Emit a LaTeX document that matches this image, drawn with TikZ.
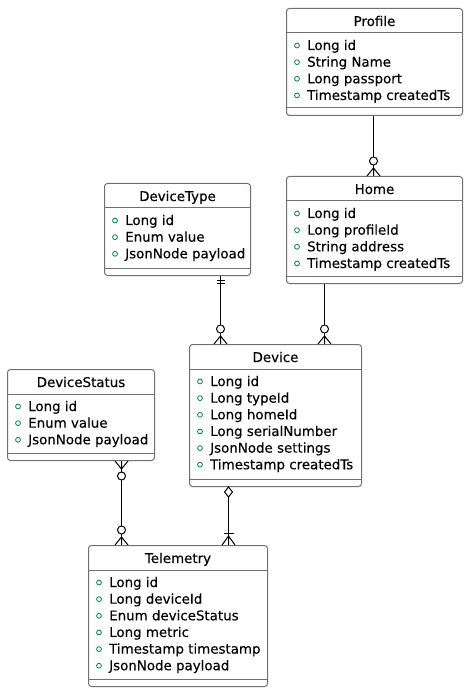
\documentclass[tikz,border=0pt]{standalone}
\usepackage{fontspec}
\setmainfont{DejaVu Sans}
\newfontface\entfont{DejaVu Sans}[FakeBold=0.25]
\usetikzlibrary{calc}
\definecolor{fieldgreen}{HTML}{038048}
\definecolor{boxline}{HTML}{707070}
\tikzset{
  entity box/.style={draw=boxline, line width=1pt, rounded corners=3pt, fill=white,
    anchor=north west, inner sep=0pt},
  entity title/.style={anchor=base, inner sep=0pt, font=\entfont\fontsize{13.4}{16}\selectfont},
  field/.style={anchor=base west, inner sep=0pt, font=\entfont\fontsize{13.4}{16}\selectfont},
  sep line/.style={draw=boxline, line width=1pt},
  relation/.style={draw=black, line width=1pt},
  % ends of a relation, drawn for a box below the point
  zero many/.pic={
    \draw[relation] (0,-8) -- (-6.5,0) (0,-8) -- (0,0) (0,-8) -- (6.5,0);
    \draw[relation, fill=white] (0,-15) circle (4pt);
  },
  one many/.pic={
    \draw[relation] (0,-9) -- (-6.5,0) (0,-9) -- (0,0) (0,-9) -- (6.5,0);
    \draw[relation] (-5,-12) -- (5,-12);
  },
  only one/.pic={
    \draw[relation] (-4,-4) -- (4,-4) (-4,-7.5) -- (4,-7.5);
  },
  aggregation/.pic={
    \draw[relation, fill=white] (0,0) -- (-4,-5) -- (0,-10) -- (4,-5) -- cycle;
  }
}
% name, x, y, width, height, title, fields
\newcommand\entity[7]{%
  \node[entity box, minimum width=#4pt, minimum height=#5pt] (#1) at (#2,#3) {};
  \node[entity title] (#1-title) at ($(#1.north)+(0,18)$) {#6};
  \draw[sep line] ($(#1.north west)+(0,25)$) -- ($(#1.north east)+(0,25)$);
  \draw[sep line] ($(#1.south west)+(0,-8)$) -- ($(#1.south east)+(0,-8)$);
  \foreach \f [count=\i] in {#7} {
    \draw[fieldgreen, line width=0.8pt] ($(#1.north west)+(11,{37.5+16.65*(\i-1)})$) circle (2.4pt);
    \node[field] (#1-f\i) at ($(#1.north west)+(21,{42+16.65*(\i-1)})$) {\f};
  }
}

\begin{document}
\begin{tikzpicture}[x=1pt, y=-1pt]
  \useasboundingbox (0,0) rectangle (465,692);

  \entity{profile}{286}{8}{176}{107}{Profile}
    {Long id, String Name, Long passport, Timestamp createdTs}
  \entity{home}{286}{176}{176}{107}{Home}
    {Long id, Long profileId, String address, Timestamp createdTs}
  \entity{devicetype}{104}{183}{146}{92}{DeviceType}
    {Long id, Enum value, JsonNode payload}
  \entity{device}{189}{344}{172}{142}{Device}
    {Long id, Long typeId, Long homeId, Long serialNumber, JsonNode settings, Timestamp createdTs}
  \entity{devicestatus}{7}{369}{147}{91}{DeviceStatus}
    {Long id, Enum value, JsonNode payload}
  \entity{telemetry}{88}{545}{179}{141}{Telemetry}
    {Long id, Long deviceId, Enum deviceStatus, Long metric, Timestamp timestamp, JsonNode payload}

  % relations
  \draw[relation] ([xshift=-1pt]profile.south) coordinate (pr-out)
    -- (pr-out |- home.north) coordinate (ho-in);
  \draw[relation] ([xshift=43pt]devicetype.south) coordinate (dt-out)
    -- (dt-out |- device.north) coordinate (dv-in1);
  \draw[relation] ([xshift=-50pt]home.south) coordinate (ho-out)
    -- (ho-out |- device.north) coordinate (dv-in2);
  \draw[relation] ([xshift=40.5pt]devicestatus.south) coordinate (ds-out)
    -- (ds-out |- telemetry.north) coordinate (te-in1);
  \draw[relation] ([xshift=-47pt]device.south) coordinate (dv-out)
    -- (dv-out |- telemetry.north) coordinate (te-in2);

  \path (ho-in) pic {zero many};
  \path (dt-out) pic[rotate=180] {only one};
  \path (dv-in1) pic {zero many};
  \path (dv-in2) pic {zero many};
  \path (ds-out) pic[rotate=180] {zero many};
  \path (te-in1) pic {zero many};
  \path (dv-out) pic[rotate=180] {aggregation};
  \path (te-in2) pic {one many};
\end{tikzpicture}
\end{document}
